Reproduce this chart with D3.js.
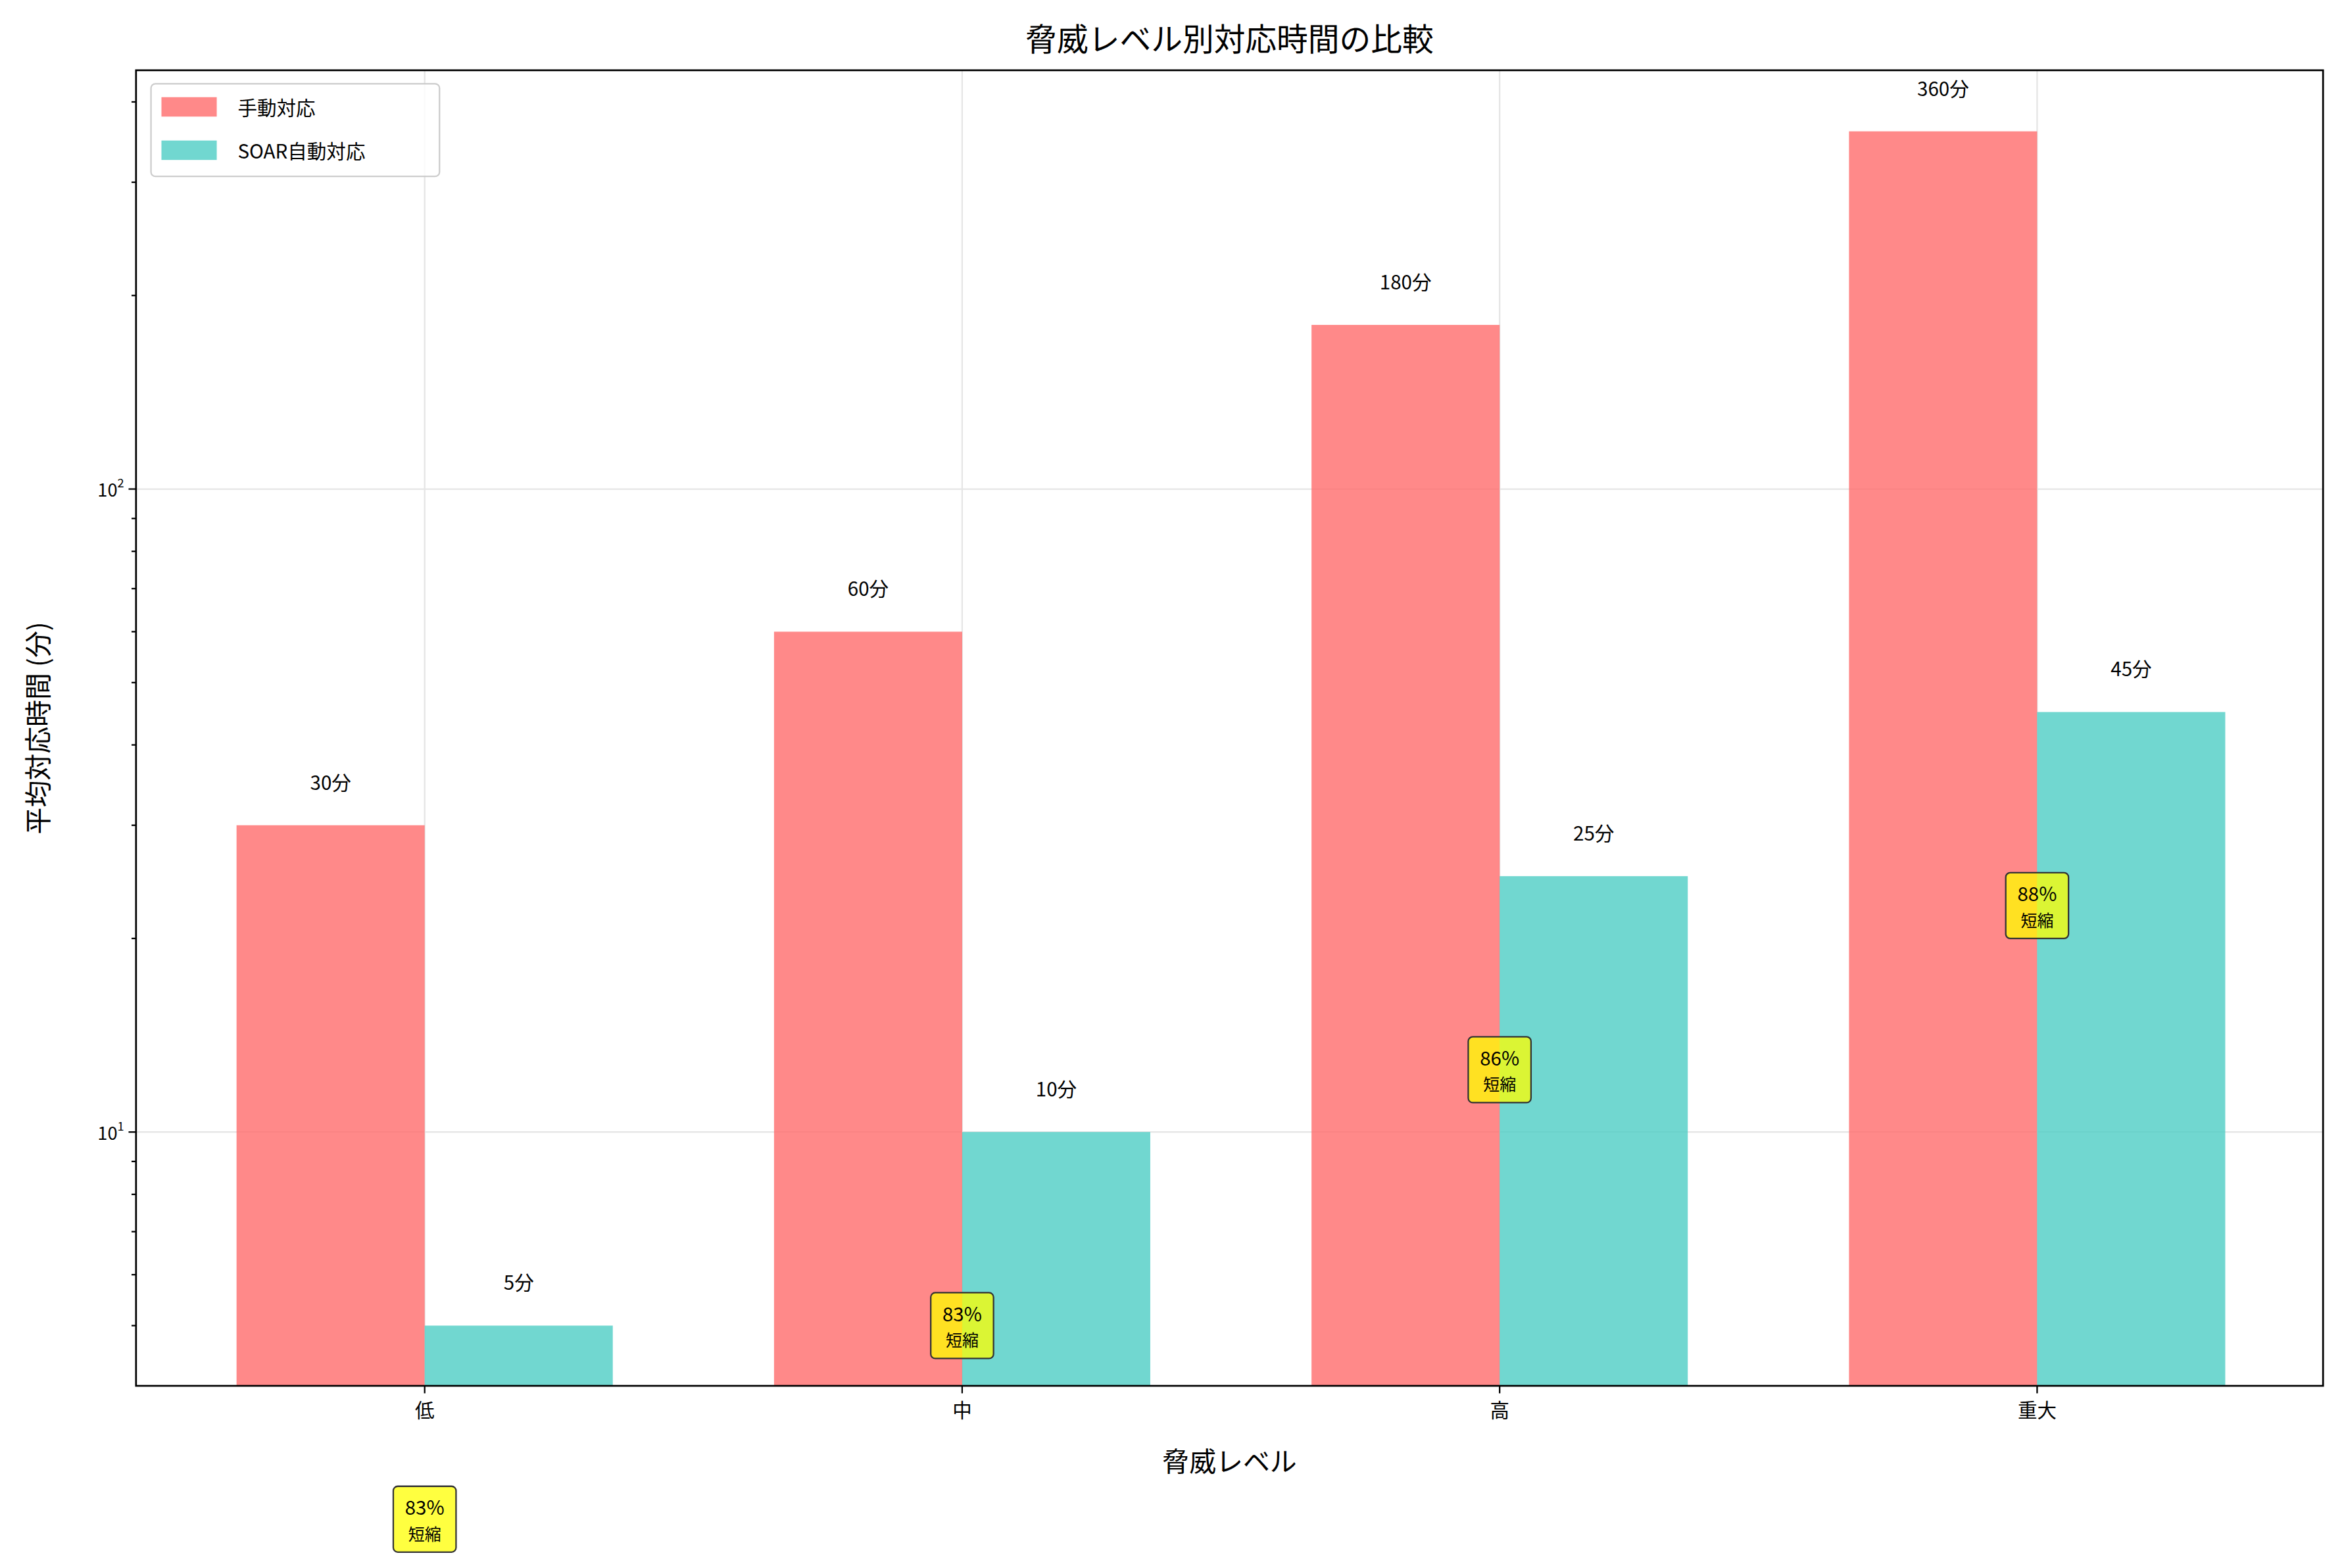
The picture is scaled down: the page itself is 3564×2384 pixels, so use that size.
<!DOCTYPE html><html><head><meta charset="utf-8">
<script src="https://d3js.org/d3.v7.min.js"></script>
<style>body{margin:0;background:#fff}text{font-family:"Noto Sans CJK JP","Noto Sans",sans-serif}</style></head><body>
<svg id="c" width="3564" height="2384"></svg>
<script>
const categories=["低","中","高","重大"];
const manual=[30,60,180,360];
const soar=[5,10,25,45];
const seriesNames=["手動対応","SOAR自動対応"];
const colors=["#FF6B6B","#4ECDC4"];
const k=3564/1568;
const svg=d3.select("#c").append("g").attr("transform",`scale(${k})`);
const L=91,R=1554,T=47,B=927;
const x=d3.scaleLinear().domain([-0.537,3.532]).range([L,R]);
const y=d3.scaleLog().domain([4.03,448]).range([B,T]);
const w=0.35;
const clip=svg.append("clipPath").attr("id","cl").append("rect").attr("x",L).attr("y",T).attr("width",R-L).attr("height",B-T);
// grid
[10,100].forEach(v=>svg.append("line").attr("x1",L).attr("x2",R).attr("y1",y(v)).attr("y2",y(v)).attr("stroke","#e5e5e5").attr("stroke-width",1));
categories.forEach((c,i)=>svg.append("line").attr("x1",x(i)).attr("x2",x(i)).attr("y1",T).attr("y2",B).attr("stroke","#e5e5e5"));
const g=svg.append("g");
[manual,soar].forEach((arr,s)=>{
 g.selectAll(null).data(arr).enter().append("rect")
  .attr("x",(d,i)=>x(i+(s?0:-w))).attr("width",x(w)-x(0))
  .attr("y",d=>y(d)).attr("height",d=>B-y(d)).attr("fill",colors[s]).attr("fill-opacity",0.8);
 g.selectAll(null).data(arr).enter().append("text")
  .attr("x",(d,i)=>x(i+(s?w/2:-w/2))).attr("y",d=>y(d*1.1)-6)
  .attr("text-anchor","middle").attr("font-size",13).text(d=>d+"分");
});
// annotations
const ann=svg.append("g");
categories.forEach((c,i)=>{
 const pct=Math.round((1-soar[i]/manual[i])*100);
 const cy=y(soar[i]/2), cx=x(i);
 ann.append("rect").attr("x",cx-21).attr("y",cy-22).attr("width",42).attr("height",44).attr("rx",3)
  .attr("fill","#ffff00").attr("fill-opacity",0.75).attr("stroke","#333").attr("stroke-width",1);
 ann.append("text").attr("x",cx).attr("y",cy-3).attr("text-anchor","middle").attr("font-size",13).text(pct+"%");
 ann.append("text").attr("x",cx).attr("y",cy+14).attr("text-anchor","middle").attr("font-size",11).text("短縮");
});
// axes frame
svg.append("rect").attr("x",L).attr("y",T).attr("width",R-L).attr("height",B-T).attr("fill","none").attr("stroke","#000").attr("stroke-width",1.2);
const ya=svg.append("g").attr("transform",`translate(${L},0)`);
const minor=[5,6,7,8,9,20,30,40,50,60,70,80,90,200,300,400];
minor.forEach(v=>ya.append("line").attr("x1",-3).attr("x2",0).attr("y1",y(v)).attr("y2",y(v)).attr("stroke","#000"));
[[10,"1"],[100,"2"]].forEach(([v,e])=>{
 ya.append("line").attr("x1",-5).attr("x2",0).attr("y1",y(v)).attr("y2",y(v)).attr("stroke","#000");
 const t=ya.append("text").attr("x",-8).attr("y",y(v)+5).attr("text-anchor","end").attr("font-size",12);
 t.append("tspan").text("10");t.append("tspan").attr("dy",-6).attr("font-size",8).text(e);
});
categories.forEach((c,i)=>{
 svg.append("line").attr("x1",x(i)).attr("x2",x(i)).attr("y1",B).attr("y2",B+5).attr("stroke","#000");
 svg.append("text").attr("x",x(i)).attr("y",B+21).attr("text-anchor","middle").attr("font-size",13).text(c);
});
svg.append("text").attr("x",(L+R)/2).attr("y",34).attr("text-anchor","middle").attr("font-size",21).text("脅威レベル別対応時間の比較");
svg.append("text").attr("x",(L+R)/2).attr("y",984).attr("text-anchor","middle").attr("font-size",18).text("脅威レベル");
svg.append("text").attr("transform",`translate(32,${(T+B)/2}) rotate(-90)`).attr("text-anchor","middle").attr("font-size",18).text("平均対応時間 (分)");
// legend
const lg=svg.append("g");
lg.append("rect").attr("x",101).attr("y",56).attr("width",193).attr("height",62).attr("rx",3).attr("fill","#fff").attr("fill-opacity",0.8).attr("stroke","#ccc");
seriesNames.forEach((n,i)=>{
 lg.append("rect").attr("x",108).attr("y",65+i*29).attr("width",37).attr("height",13).attr("fill",colors[i]).attr("fill-opacity",0.8);
 lg.append("text").attr("x",159).attr("y",77+i*29).attr("font-size",13).text(n);
});
</script></body></html>
